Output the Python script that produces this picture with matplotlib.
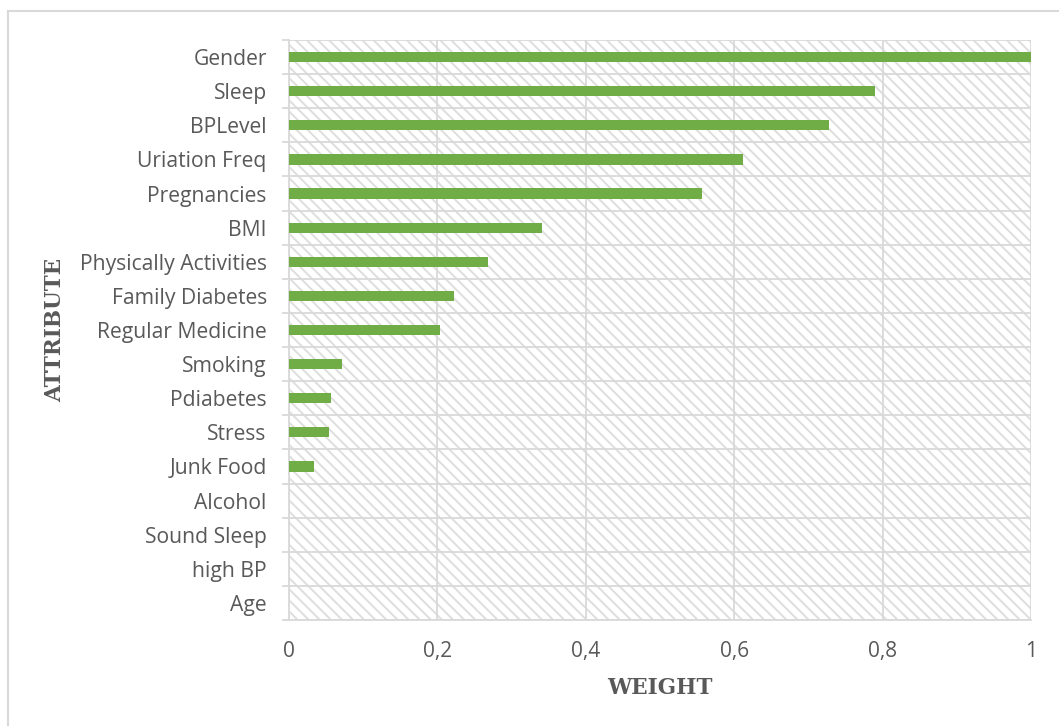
import matplotlib
matplotlib.use("Agg")
import matplotlib.pyplot as plt
from matplotlib.patches import Rectangle
from matplotlib.lines import Line2D
import numpy as np

attributes = ["Gender", "Sleep", "BPLevel", "Uriation Freq", "Pregnancies", "BMI",
              "Physically Activities", "Family Diabetes", "Regular Medicine", "Smoking",
              "Pdiabetes", "Stress", "Junk Food", "Alcohol", "Sound Sleep", "high BP", "Age"]
weights = [1.0, 0.790, 0.728, 0.612, 0.557, 0.341, 0.268, 0.222, 0.204, 0.071,
           0.057, 0.054, 0.034, 0.0, 0.0, 0.0, 0.0]
x_ticks = [0, 0.2, 0.4, 0.6, 0.8, 1.0]
x_tick_labels = ["0", "0,2", "0,4", "0,6", "0,8", "1"]

GREEN = "#70AD47"
GRID = "#D9D9D9"
TEXT = "#595959"

plt.rcParams["hatch.linewidth"] = 1.4
plt.rcParams["hatch.color"] = "#DEDEDE"

fig = plt.figure(figsize=(10.59, 7.26), dpi=100)
ax = fig.add_axes([289 / 1059, 1 - 620 / 726, (1031 - 289) / 1059, (620 - 40) / 726])

n = len(attributes)
ypos = np.arange(n)

# hatched plot background
ax.add_patch(Rectangle((0, -0.5), 1, n, facecolor="white", edgecolor="#DEDEDE",
                       hatch="\\\\\\", linewidth=0, zorder=0))

ax.barh(ypos, weights, height=0.3, color=GREEN, zorder=3)

ax.set_xlim(0, 1)
ax.set_ylim(n - 0.5, -0.5)

label_font = "Open Sans"
ax.set_yticks(ypos)
ax.set_yticklabels(attributes, fontsize=15.2, color=TEXT, family=label_font)
ax.tick_params(axis="y", which="major", length=0, pad=16)
ax.set_yticks(np.arange(-0.5, n, 1), minor=True)
ax.tick_params(axis="y", which="minor", length=5, color=GRID, width=1.3)

ax.set_xticks(x_ticks)
ax.set_xticklabels(x_tick_labels, fontsize=15, color=TEXT, family=label_font)
ax.tick_params(axis="x", length=0, pad=15)

ax.grid(axis="x", which="major", color=GRID, linewidth=1.3, zorder=1)
ax.grid(axis="y", which="minor", color=GRID, linewidth=1.3, zorder=1)
ax.grid(axis="y", which="major", visible=False)
ax.set_axisbelow(True)

for side in ["top", "right"]:
    ax.spines[side].set_visible(False)
ax.spines["left"].set_color(GRID)
ax.spines["left"].set_linewidth(1.3)
ax.spines["bottom"].set_color(GRID)
ax.spines["bottom"].set_linewidth(1.3)

title_font = ["DejaVu Serif", "Liberation Serif"]
fig.text(660 / 1059, 1 - 688 / 726, "WEIGHT", ha="center", va="center",
         fontsize=15.5, fontweight="heavy", family=title_font, color=TEXT)
fig.text(55 / 1059, 1 - 330 / 726, "ATTRIBUTE", ha="center", va="center", rotation=90,
         fontsize=15.5, fontweight="heavy", family=title_font, color=TEXT)

# chart frame (top and left edges)
fig.add_artist(Line2D([8 / 1059, 8 / 1059], [0, 1 - 11 / 726], transform=fig.transFigure,
                      color="#D9D9D9", linewidth=1.5))
fig.add_artist(Line2D([8 / 1059, 1], [1 - 11 / 726, 1 - 11 / 726], transform=fig.transFigure,
                      color="#D9D9D9", linewidth=1.5))

fig.savefig("out.png", dpi=100, facecolor="white")
